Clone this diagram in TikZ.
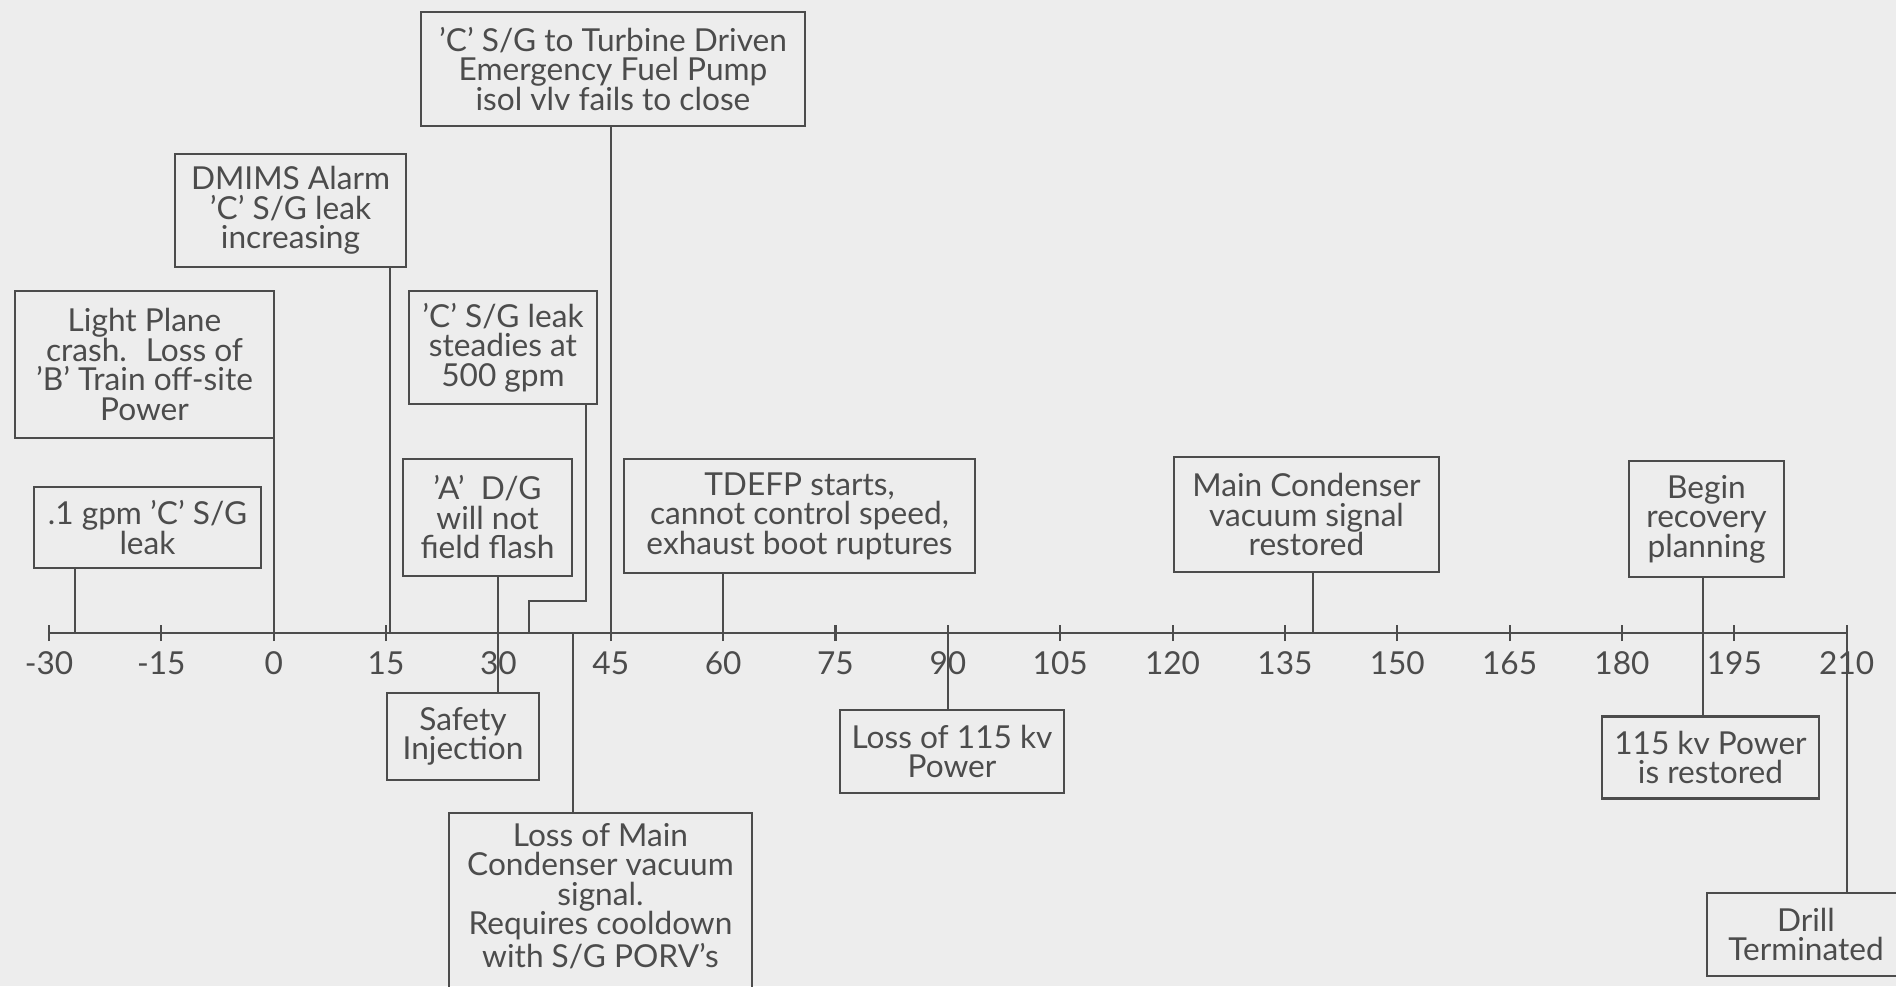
\documentclass[tikz,border=0pt]{standalone}
\usepackage{fontspec}
\setmainfont{Lato}
\usetikzlibrary{backgrounds}

\tikzset{
    evbox/.style={draw, align=center, inner sep=1mm,
        font=\fontsize{9}{8.4}\selectfont},
    ticklbl/.style={inner sep=0pt, font=\fontsize{9}{9}\selectfont},
}

\begin{document}
\begin{tikzpicture}[
    color=black!70, line width=0.6pt,
    background rectangle/.style={fill=black!7}, show background rectangle,
    inner frame sep=0pt]

    \useasboundingbox (0,0) rectangle (18.96,9.86);

    % time axis, one x unit is one minute
    \begin{scope}[shift={(2.737,3.53)}, x=0.0749cm]
        \draw (-30,0) -- (210,0);
        \foreach \t in {-30,-15,...,210} {
            \draw (\t,-.08) -- (\t,.08);
            \node[ticklbl] at (\t,-.3) (lbl\t) {\t};
        }
        % where each event sits on the axis
        \coordinate (gpmT) at (-26.5,0);
        \coordinate (planeT) at (0,0);
        \coordinate (dmimsT) at (15.5,0);
        \coordinate (dgT) at (30,0);
        \coordinate (steadyT) at (34.1,0);
        \coordinate (condlossT) at (40,0);
        \coordinate (pumpT) at (45,0);
        \coordinate (tdefpT) at (60,0);
        \coordinate (lossT) at (90,0);
        \coordinate (condokT) at (138.8,0);
        \coordinate (recoveryT) at (190.8,0);
        \coordinate (drillT) at (210,0);
    \end{scope}

    % boxes above the axis
    \node[evbox, minimum width=3.84cm, minimum height=1.14cm] at (6.13,9.17) (pump)
        {'C' S/G to Turbine Driven\\Emergency Fuel Pump\\isol vlv fails to close};
    \node[evbox, minimum width=2.31cm, minimum height=1.13cm] at (2.905,7.755) (dmims)
        {DMIMS Alarm\\'C' S/G leak\\increasing};
    \node[evbox, minimum width=2.59cm, minimum height=1.47cm] at (1.445,6.215) (plane)
        {Light Plane\\crash.~ Loss of\\'B' Train off-site\\Power};
    \node[evbox, minimum width=1.88cm, minimum height=1.13cm] at (5.03,6.385) (steady)
        {'C' S/G leak\\steadies at\\500 gpm};
    \node[evbox, minimum width=2.27cm, minimum height=.81cm] at (1.475,4.585) (gpm)
        {.1 gpm 'C' S/G\\leak};
    \node[evbox, minimum width=1.69cm, minimum height=1.17cm] at (4.875,4.685) (dg)
        {'A'~ D/G\\will not\\field flash};
    \node[evbox, minimum width=3.51cm, minimum height=1.14cm] at (7.995,4.70) (tdefp)
        {TDEFP starts,\\cannot control speed,\\exhaust boot ruptures};
    \node[evbox, minimum width=2.65cm, minimum height=1.15cm] at (13.065,4.715) (condok)
        {Main Condenser\\vacuum signal\\restored};
    \node[evbox, minimum width=1.55cm, minimum height=1.16cm] at (17.065,4.67) (recovery)
        {Begin\\recovery\\planning};

    % boxes below the axis
    \node[evbox, minimum width=1.52cm, minimum height=.87cm] at (4.63,2.495) (si)
        {Safety\\Injection};
    \node[evbox, minimum width=2.24cm, minimum height=.83cm] at (9.52,2.345) (loss)
        {Loss of 115 kv\\Power};
    \node[evbox, minimum width=3.03cm, anchor=north] at (6.005,1.74) (condloss)
        {Loss of Main\\Condenser vacuum\\signal.\\Requires cooldown\\with S/G PORV's\\[4mm]\mbox{}};
    \node[evbox, minimum width=2.17cm, minimum height=.82cm] at (17.105,2.285) (power)
        {115 kv Power\\is restored};
    \node[evbox, minimum width=1.98cm, minimum height=.83cm] at (18.06,.515) (drill)
        {Drill\\Terminated};

    % drop lines from the boxes to the axis
    \draw (gpmT |- gpm.south) -- (gpmT);
    \draw (planeT |- plane.south) -- (planeT);
    \draw (dmimsT |- dmims.south) -- (dmimsT);
    \draw ([xshift=-1.2mm]steady.south east) |- ([yshift=3.2mm]steadyT) -- (steadyT);
    \draw (pumpT |- pump.south) -- (pumpT);
    \draw (tdefpT |- tdefp.south) -- (tdefpT);
    \draw (condokT |- condok.south) -- (condokT);
    % these ones cross the axis
    \draw (dgT |- dg.south) -- (dgT |- si.north);
    \draw (recoveryT |- recovery.south) -- (recoveryT |- power.north);
    % and these hang below it
    \draw (condlossT) -- (condlossT |- condloss.north);
    \draw (lossT) -- (lossT |- loss.north);
    \draw ([yshift=.8mm]drillT) -- (drillT |- drill.north);

\end{tikzpicture}
\end{document}
